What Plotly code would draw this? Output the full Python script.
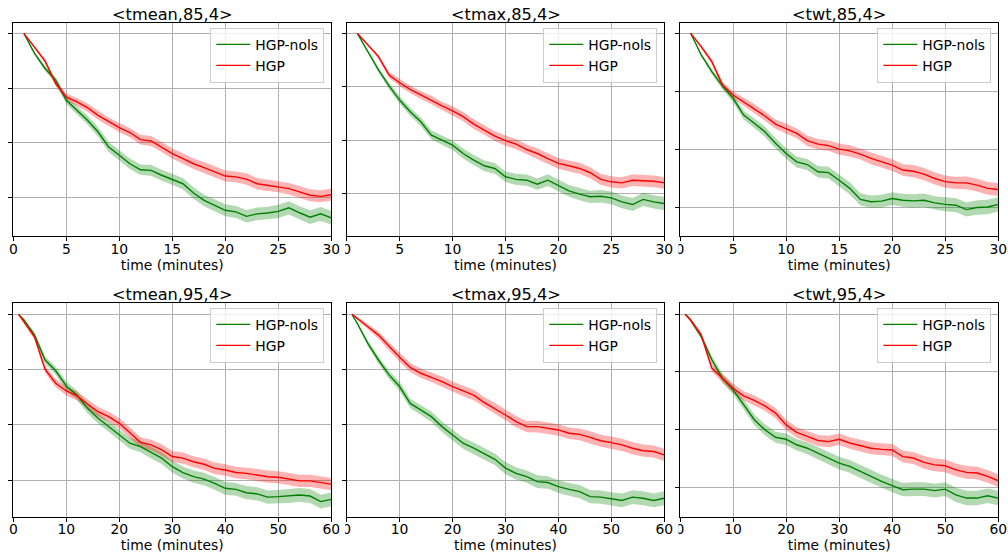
import plotly.graph_objects as go

W, H = 1008, 557

TITLES = ["<tmean,85,4>", "<tmax,85,4>", "<twt,85,4>",
          "<tmean,95,4>", "<tmax,95,4>", "<twt,95,4>"]
SERIES_NAMES = ["HGP-nols", "HGP"]
X_LABEL = "time (minutes)"

# time axis (minutes)
X_TOP = list(range(1, 31))
X_BOT = [1] + list(range(2, 61, 2))

# ---- top row (85) ----
TMEAN85_NOLS = [100, 92.7, 87.2, 82.9, 75.6, 72.0, 68.3, 64.0, 58.5, 55.5,
                52.4, 50.2, 50.0, 48.2, 46.7, 45.1, 41.7, 39.0, 37.2, 35.4,
                34.8, 33.2, 34.1, 34.4, 35.0, 36.3, 34.5, 32.9, 34.1, 32.6]
TMEAN85_HGP = [100, 95.1, 89.9, 81.7, 76.8, 75.0, 72.9, 70.1, 67.7, 65.6,
               63.8, 61.2, 60.7, 58.5, 56.1, 54.3, 52.4, 51.0, 49.4, 47.9,
               47.6, 46.8, 45.1, 44.5, 44.1, 43.3, 42.1, 40.9, 40.5, 41.1]

TMAX85_NOLS = [100, 93.1, 86.3, 80.3, 75.0, 70.6, 66.9, 61.9, 60.0, 58.1,
               55.0, 52.5, 50.4, 49.4, 46.3, 45.3, 45.0, 43.5, 45.0, 43.1,
               41.0, 39.8, 38.8, 39.0, 38.4, 36.9, 35.9, 37.8, 36.9, 36.3]
TMAX85_HGP = [100, 95.6, 91.3, 84.4, 81.5, 79.0, 76.9, 75.0, 72.8, 71.0,
              68.8, 66.0, 63.8, 61.5, 59.8, 58.5, 56.5, 55.0, 53.1, 51.3,
              50.4, 49.4, 47.8, 45.3, 44.4, 44.0, 45.0, 44.8, 44.6, 44.0]

TWT85_NOLS = [100, 92.5, 86.8, 81.8, 77.6, 71.8, 69.0, 66.1, 62.1, 58.6,
              55.7, 54.8, 52.3, 52.0, 49.4, 46.6, 42.8, 42.0, 42.2, 43.1,
              42.5, 42.3, 42.5, 41.6, 41.1, 40.8, 39.3, 40.0, 40.2, 41.1]
TWT85_HGP = [100, 95.4, 90.2, 82.2, 78.7, 76.4, 74.1, 71.5, 68.7, 67.2,
             65.5, 63.0, 61.8, 61.3, 60.1, 59.5, 58.4, 56.9, 55.7, 54.6,
             52.9, 52.5, 51.5, 50.0, 48.9, 48.5, 48.5, 47.7, 46.6, 46.2]

# ---- bottom row (95) ----
TMEAN95_NOLS = [100, 98.0, 92.5, 83.5, 79.6, 74.1, 70.8, 66.0, 62.4, 59.4,
                56.4, 53.4, 52.2, 50.0, 48.0, 44.9, 42.8, 41.3, 40.4, 38.9,
                37.1, 36.7, 35.5, 35.1, 33.9, 34.1, 34.3, 34.7, 34.3, 32.3, 33.1]
TMEAN95_HGP = [100, 97.3, 91.9, 80.1, 75.1, 72.3, 70.5, 67.6, 64.8, 63.0,
               60.6, 57.2, 53.7, 52.8, 51.0, 48.6, 48.0, 46.7, 45.8, 44.3,
               43.7, 42.8, 42.5, 41.9, 41.3, 41.1, 40.4, 39.8, 39.8, 39.3, 38.6]

TMAX95_NOLS = [100, 96.7, 89.5, 83.5, 78.1, 73.9, 67.8, 65.4, 63.0, 59.4,
               56.4, 53.4, 51.6, 49.5, 47.6, 44.4, 42.5, 41.3, 39.5, 39.2,
               37.7, 36.7, 35.9, 34.1, 33.9, 33.3, 32.7, 33.9, 33.5, 32.7, 33.5]
TMAX95_HGP = [100, 98.6, 95.5, 92.5, 88.3, 84.5, 80.8, 78.7, 77.2, 75.7,
              73.9, 72.3, 70.8, 68.1, 66.0, 63.6, 61.2, 59.4, 59.4, 58.8,
              58.2, 57.0, 56.6, 55.5, 54.3, 53.6, 52.8, 51.6, 50.7, 50.4, 49.2]

TWT95_NOLS = [100, 98.0, 92.3, 84.2, 77.8, 73.8, 68.6, 63.4, 59.9, 57.3,
              56.6, 54.7, 53.5, 51.8, 50.1, 48.3, 47.2, 45.4, 43.7, 42.0,
              40.5, 39.1, 39.3, 39.3, 38.8, 39.3, 37.3, 36.2, 36.2, 37.0, 36.2]
TWT95_HGP = [100, 98.0, 92.8, 81.3, 77.8, 74.3, 71.7, 70.1, 68.2, 65.7,
             61.6, 59.0, 57.6, 56.2, 55.8, 56.6, 55.3, 54.4, 53.5, 53.1,
             52.9, 50.6, 50.1, 48.6, 47.7, 47.4, 46.0, 45.1, 44.9, 43.7, 42.2]

# spread (half-width of the shaded band)
STD_TOP_NOLS = [0, 0.5, 0.9, 1.2, 1.4, 1.5, 1.6, 1.7, 1.8, 1.8, 1.9, 1.9, 2.0, 2.0, 2.0,
                2.1, 2.1, 2.1, 2.2, 2.2, 2.2, 2.3, 2.3, 2.3, 2.4, 2.4, 2.4, 2.5, 2.5, 2.5]
STD_TOP_HGP = [0, 0.5, 0.8, 1.1, 1.3, 1.4, 1.5, 1.6, 1.6, 1.7, 1.7, 1.8, 1.8, 1.8, 1.9,
               1.9, 1.9, 2.0, 2.0, 2.0, 2.0, 2.1, 2.1, 2.1, 2.1, 2.1, 2.2, 2.2, 2.2, 2.2]
STD_BOT_NOLS = [0, 0.5, 1.0, 1.3, 1.5, 1.6, 1.7, 1.8, 1.9, 1.9, 2.0, 2.0, 2.1, 2.1, 2.1, 2.2,
                2.2, 2.2, 2.3, 2.3, 2.3, 2.3, 2.4, 2.4, 2.4, 2.4, 2.5, 2.5, 2.5, 2.5, 2.5]
STD_BOT_HGP = [0, 0.5, 1.0, 1.3, 1.5, 1.6, 1.6, 1.7, 1.7, 1.8, 1.8, 1.9, 1.9, 1.9, 2.0, 2.0,
               2.0, 2.0, 2.1, 2.1, 2.1, 2.1, 2.1, 2.2, 2.2, 2.2, 2.2, 2.2, 2.2, 2.2, 2.2]

Y_TICKS = [40, 60, 80, 100]
X_TICKS_TOP = [0, 5, 10, 15, 20, 25, 30]
X_TICKS_BOT = [0, 10, 20, 30, 40, 50, 60]
Y_RANGES = [[25.9, 103.7], [24.0, 103.75], [30.1, 103.4],
            [26.9, 104.0], [26.9, 104.0], [29.8, 103.8]]

PANELS = [
    (X_TOP, TMEAN85_NOLS, TMEAN85_HGP, STD_TOP_NOLS, STD_TOP_HGP, X_TICKS_TOP),
    (X_TOP, TMAX85_NOLS, TMAX85_HGP, STD_TOP_NOLS, STD_TOP_HGP, X_TICKS_TOP),
    (X_TOP, TWT85_NOLS, TWT85_HGP, STD_TOP_NOLS, STD_TOP_HGP, X_TICKS_TOP),
    (X_BOT, TMEAN95_NOLS, TMEAN95_HGP, STD_BOT_NOLS, STD_BOT_HGP, X_TICKS_BOT),
    (X_BOT, TMAX95_NOLS, TMAX95_HGP, STD_BOT_NOLS, STD_BOT_HGP, X_TICKS_BOT),
    (X_BOT, TWT95_NOLS, TWT95_HGP, STD_BOT_NOLS, STD_BOT_HGP, X_TICKS_BOT),
]

# geometry in pixels
COLS_PX = [(13.3, 331.3), (346.7, 664.3), (680.0, 998.3)]
ROWS_PX = [(23.3, 236.3), (303.3, 516.5)]

LINE_COLORS = ["#008000", "#ff0000"]
BAND_COLORS = ["rgba(0,128,0,0.3)", "rgba(255,0,0,0.3)"]
FONT = "DejaVu Sans"

fig = go.Figure()
layout = dict(
    width=W, height=H, margin=dict(l=0, r=0, t=0, b=0, autoexpand=False),
    paper_bgcolor="white", plot_bgcolor="white",
    font=dict(family=FONT, color="black", size=14),
    showlegend=True, annotations=[], shapes=[],
)

for i, (xs, nols, hgp, sd_n, sd_h, xt) in enumerate(PANELS):
    r, c = divmod(i, 3)
    n = "" if i == 0 else str(i + 1)
    xref, yref = "x" + n, "y" + n
    leg = "legend" + n
    x0, x1 = COLS_PX[c]
    y0, y1 = ROWS_PX[r]
    for k, (vals, sd) in enumerate([(nols, sd_n), (hgp, sd_h)]):
        upper = [v + s for v, s in zip(vals, sd)]
        lower = [v - s for v, s in zip(vals, sd)]
        fig.add_trace(go.Scatter(
            x=list(xs) + list(xs)[::-1], y=upper + lower[::-1],
            fill="toself", fillcolor=BAND_COLORS[k], line=dict(width=0),
            mode="lines", showlegend=False, hoverinfo="skip",
            xaxis=xref, yaxis=yref))
    for k, vals in enumerate([nols, hgp]):
        fig.add_trace(go.Scatter(
            x=xs, y=vals, mode="lines", name=SERIES_NAMES[k],
            line=dict(color=LINE_COLORS[k], width=1.4),
            xaxis=xref, yaxis=yref, legend=leg))

    layout["xaxis" + n] = dict(
        domain=[x0 / W, x1 / W], anchor=yref, range=[0, xt[-1]], automargin=False,
        tickvals=xt, ticktext=[str(t) for t in xt],
        showgrid=True, gridcolor="#b0b0b0", gridwidth=0.8, zeroline=False,
        showline=True, mirror=True, linecolor="black", linewidth=1,
        ticks="outside", ticklen=4, tickcolor="black", tickwidth=1,
        ticklabelstandoff=-4,
        tickfont=dict(size=13.9, family=FONT),
        title=dict(text=X_LABEL, font=dict(size=13.9, family=FONT), standoff=1),
    )
    layout["yaxis" + n] = dict(
        domain=[1 - y1 / H, 1 - y0 / H], anchor=xref, range=Y_RANGES[i], automargin=False,
        tickvals=Y_TICKS, showticklabels=False,
        showgrid=True, gridcolor="#b0b0b0", gridwidth=0.8, zeroline=False,
        showline=True, mirror=True, linecolor="black", linewidth=1,
        ticks="outside", ticklen=4, tickcolor="black", tickwidth=1,
    )
    layout[leg] = dict(
        x=(x1 - 7) / W, y=1 - (y0 + 4.5) / H, xanchor="right", yanchor="top",
        bgcolor="rgba(255,255,255,0.8)", bordercolor="#cccccc", borderwidth=1,
        font=dict(size=13.9, family=FONT), traceorder="normal", itemwidth=34,
    )
    layout["annotations"].append(dict(
        text=TITLES[i], x=(x0 + x1) / 2 / W, y=1 - (y0 - 8.5) / H,
        xref="paper", yref="paper", xanchor="center", yanchor="middle",
        showarrow=False, font=dict(size=16.2, family=FONT, color="black")))
    if c > 0:
        # the left half of the "0" tick label is cut off in the reference
        layout["shapes"].append(dict(
            type="rect", xref="paper", yref="paper", layer="above",
            x0=(x0 - 7) / W, x1=(x0 - 1.5) / W,
            y0=1 - (y1 + 18) / H, y1=1 - (y1 + 3) / H,
            fillcolor="white", line=dict(width=0)))

fig.update_layout(**layout)
fig.write_html("out.html", config={"displayModeBar": False},
               post_script="document.body.style.margin='0';")
